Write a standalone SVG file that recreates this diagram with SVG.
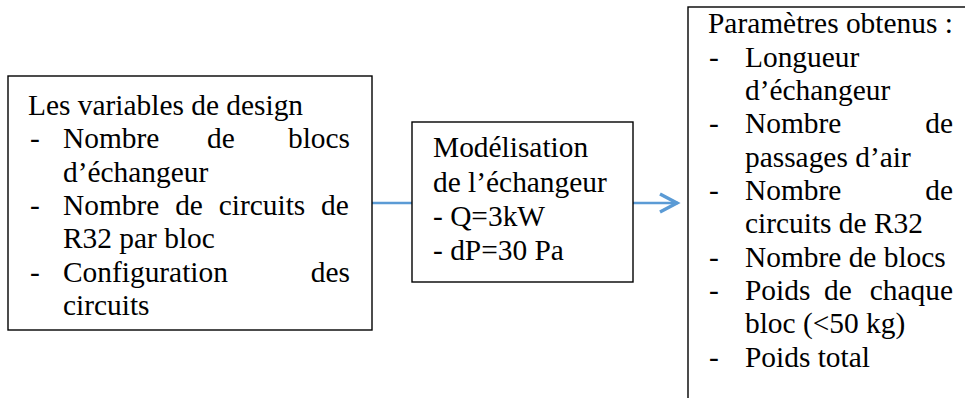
<svg xmlns="http://www.w3.org/2000/svg" width="965" height="398" viewBox="0 0 965 398" font-family="'Liberation Serif', 'Times New Roman', Times, serif" font-size="29.4">
  <style>
    .box { fill: #ffffff; stroke: #000000; stroke-width: 1.4; }
    .end { text-anchor: end; }
    .link { fill: none; stroke: #5B9BD5; stroke-width: 2.6; }
  </style>
  <defs>
    <marker id="chevron" markerUnits="userSpaceOnUse" markerWidth="26" markerHeight="26" refX="20" refY="11" orient="auto">
      <path d="M2,2 L19,11 L2,20" fill="none" stroke="#5B9BD5" stroke-width="3.4" stroke-linejoin="miter"/>
    </marker>
  </defs>
  <rect width="965" height="398" fill="#ffffff"/>

  <!-- connectors -->
  <g id="connectors">
    <line class="link" x1="372" y1="203" x2="412" y2="203"/>
    <line class="link" x1="633" y1="203" x2="678" y2="203" marker-end="url(#chevron)"/>
  </g>

  <!-- design variables -->
  <g id="node-variables">
    <rect class="box" x="8" y="76" width="364" height="254"/>
    <text x="28" y="115">Les variables de design</text>
    <text x="30" y="148">-</text>
    <text x="63" y="148">Nombre</text>
    <text x="207" y="148">de</text>
    <text class="end" x="350" y="148">blocs</text>
    <text x="63" y="181.5">d’échangeur</text>
    <text x="30" y="215">-</text>
    <text x="63" y="215" word-spacing="8.5">Nombre de circuits de</text>
    <text x="63" y="248">R32 par bloc</text>
    <text x="30" y="281.5">-</text>
    <text x="63" y="281.5">Configuration</text>
    <text class="end" x="350" y="281.5">des</text>
    <text x="63" y="315">circuits</text>
  </g>

  <!-- exchanger model -->
  <g id="node-model">
    <rect class="box" x="412" y="122" width="221" height="160"/>
    <text x="433" y="157">Modélisation</text>
    <text x="433" y="191.5">de l’échangeur</text>
    <text x="433" y="226">- Q=3kW</text>
    <text x="433" y="260">- dP=30 Pa</text>
  </g>

  <!-- obtained parameters -->
  <g id="node-results">
    <rect class="box" x="688" y="7" width="400" height="500"/>
    <text x="708" y="33">Paramètres obtenus :</text>
    <text x="709" y="66.5">-</text>
    <text x="745" y="66.5">Longueur</text>
    <text x="745" y="100">d’échangeur</text>
    <text x="709" y="133">-</text>
    <text x="745" y="133">Nombre</text>
    <text class="end" x="953" y="133">de</text>
    <text x="745" y="166.5">passages d’air</text>
    <text x="709" y="200">-</text>
    <text x="745" y="200">Nombre</text>
    <text class="end" x="953" y="200">de</text>
    <text x="745" y="233">circuits de R32</text>
    <text x="709" y="266.5">-</text>
    <text x="745" y="266.5">Nombre de blocs</text>
    <text x="709" y="300">-</text>
    <text x="745" y="300">Poids</text>
    <text x="824" y="300">de</text>
    <text class="end" x="953" y="300">chaque</text>
    <text x="745" y="333">bloc (&lt;50 kg)</text>
    <text x="709" y="366.5">-</text>
    <text x="745" y="366.5">Poids total</text>
  </g>
</svg>
